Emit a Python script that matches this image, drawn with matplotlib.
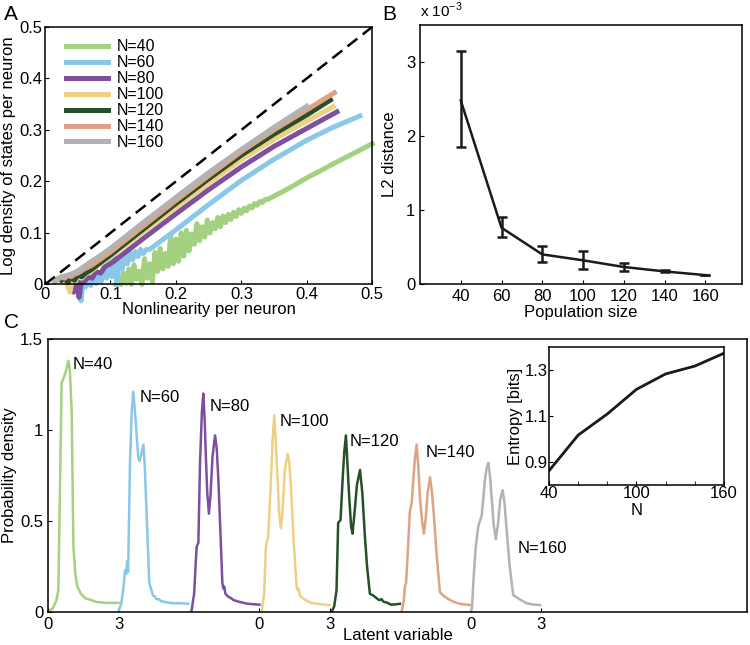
import matplotlib
matplotlib.use('Agg')
import matplotlib.pyplot as plt

plt.rcParams['font.family'] = ['Liberation Sans', 'DejaVu Sans']
plt.rcParams['mathtext.fontset'] = 'custom'
plt.rcParams['mathtext.rm'] = 'Liberation Sans'
plt.rcParams['font.size'] = 12
plt.rcParams['xtick.direction'] = 'in'
plt.rcParams['ytick.direction'] = 'in'
plt.rcParams['xtick.major.size'] = 3
plt.rcParams['ytick.major.size'] = 3
plt.rcParams['axes.linewidth'] = 1.1

sizes = [40, 60, 80, 100, 120, 140, 160]
labels = ['N=40', 'N=60', 'N=80', 'N=100', 'N=120', 'N=140', 'N=160']
colors = ['#a3d17f', '#8ac8e8', '#7d4f9e', '#efd083', '#26502a', '#e0a285', '#b3b3b3']

# panel A: log density of states vs nonlinearity
a_x40 = [0.108, 0.112, 0.116, 0.120, 0.124, 0.128, 0.132, 0.136, 0.140, 0.144, 0.148, 0.152,
         0.156, 0.160, 0.164, 0.168, 0.172, 0.176, 0.180, 0.184, 0.188, 0.192, 0.196, 0.200,
         0.204, 0.208, 0.212, 0.216, 0.220, 0.224, 0.228, 0.232, 0.236, 0.240, 0.244, 0.248,
         0.252, 0.256, 0.260, 0.264, 0.268, 0.272, 0.276, 0.280, 0.284, 0.288, 0.292, 0.296,
         0.300, 0.304, 0.308, 0.312, 0.316, 0.320, 0.324, 0.328, 0.332, 0.336, 0.340,
         0.360, 0.380, 0.400, 0.420, 0.440, 0.460, 0.480, 0.500]
a_y40 = [0.000, 0.012, 0.000, 0.022, 0.002, 0.030, 0.000, 0.038, 0.010, 0.026, 0.000, 0.050,
         0.012, 0.040, 0.005, 0.062, 0.025, 0.070, 0.030, 0.060, 0.035, 0.095, 0.040, 0.088,
         0.045, 0.100, 0.055, 0.105, 0.065, 0.098, 0.078, 0.118, 0.085, 0.112, 0.092, 0.125,
         0.100, 0.120, 0.108, 0.130, 0.112, 0.133, 0.120, 0.136, 0.126, 0.140, 0.132, 0.145,
         0.138, 0.148, 0.143, 0.152, 0.148, 0.157, 0.154, 0.161, 0.159, 0.165, 0.165,
         0.178, 0.192, 0.207, 0.220, 0.234, 0.247, 0.260, 0.273]
a_x60 = [0.052, 0.055, 0.058, 0.062, 0.066, 0.070, 0.074, 0.078, 0.082, 0.086, 0.090, 0.094,
         0.098, 0.102, 0.106, 0.110, 0.114, 0.118, 0.122, 0.126, 0.130, 0.134, 0.138, 0.142,
         0.146, 0.150, 0.155, 0.160, 0.180, 0.200, 0.250, 0.300, 0.350, 0.400, 0.440, 0.481]
a_y60 = [0.000, -0.032, 0.004, -0.005, 0.010, -0.002, 0.018, 0.002, 0.022, 0.006, 0.035, 0.012,
         0.048, 0.015, 0.055, 0.000, 0.052, 0.030, 0.058, 0.040, 0.062, 0.048, 0.064, 0.054,
         0.068, 0.060, 0.068, 0.068, 0.087, 0.106, 0.155, 0.202, 0.243, 0.280, 0.305, 0.327]
a_x80 = [0.040, 0.044, 0.048, 0.052, 0.056, 0.060, 0.066, 0.072, 0.078, 0.085, 0.092, 0.100,
         0.150, 0.200, 0.250, 0.300, 0.350, 0.400, 0.446]
a_y80 = [0.000, -0.015, 0.020, -0.025, 0.010, 0.005, 0.015, 0.012, 0.025, 0.022, 0.035, 0.040,
         0.089, 0.137, 0.184, 0.228, 0.268, 0.303, 0.335]
a_x100 = [0.030, 0.034, 0.038, 0.042, 0.046, 0.050, 0.056, 0.062, 0.070, 0.080, 0.100, 0.150,
          0.200, 0.250, 0.300, 0.350, 0.400, 0.440]
a_y100 = [0.005, 0.000, -0.015, 0.010, 0.005, 0.015, 0.012, 0.020, 0.025, 0.035, 0.054, 0.102,
          0.150, 0.197, 0.242, 0.282, 0.317, 0.345]
a_x120 = [0.025, 0.030, 0.035, 0.040, 0.045, 0.050, 0.056, 0.062, 0.070, 0.080, 0.100, 0.150,
          0.200, 0.250, 0.300, 0.350, 0.400, 0.436]
a_y120 = [0.008, 0.012, 0.004, 0.015, 0.008, 0.018, 0.015, 0.022, 0.028, 0.038, 0.057, 0.107,
          0.157, 0.205, 0.251, 0.292, 0.329, 0.358]
a_x140 = [0.020, 0.025, 0.030, 0.035, 0.040, 0.045, 0.050, 0.060, 0.070, 0.080, 0.100, 0.150,
          0.200, 0.250, 0.300, 0.350, 0.400, 0.442]
a_y140 = [0.010, 0.015, 0.012, 0.018, 0.015, 0.020, 0.022, 0.030, 0.036, 0.045, 0.063, 0.113,
          0.163, 0.211, 0.258, 0.300, 0.339, 0.372]
a_x160 = [0.015, 0.020, 0.030, 0.040, 0.050, 0.060, 0.070, 0.080, 0.100, 0.150, 0.200, 0.250,
          0.300, 0.350, 0.400]
a_y160 = [0.005, 0.012, 0.016, 0.020, 0.026, 0.035, 0.044, 0.052, 0.070, 0.120, 0.169, 0.217,
          0.262, 0.305, 0.346]
a_xs = [a_x40, a_x60, a_x80, a_x100, a_x120, a_x140, a_x160]
a_ys = [a_y40, a_y60, a_y80, a_y100, a_y120, a_y140, a_y160]

# panel B: L2 distance (x 1e-3)
b_mean = [2.48, 0.76, 0.40, 0.32, 0.23, 0.17, 0.12]
b_low = [1.85, 0.63, 0.30, 0.20, 0.18, 0.16, 0.12]
b_high = [3.15, 0.90, 0.52, 0.45, 0.29, 0.19, 0.12]

# panel C: latent variable densities (local x in [0, 3], shifted by 3 per curve)
c_x40 = [0.0, 0.2, 0.35, 0.44, 0.5, 0.58, 0.68, 0.78, 0.87, 0.93, 1.01, 1.08, 1.17, 1.25,
         1.4, 1.6, 2.07, 2.5, 3.0]
c_y40 = [0.0, 0.02, 0.06, 0.12, 0.6, 1.26, 1.29, 1.33, 1.38, 1.33, 1.09, 0.36, 0.2, 0.14,
         0.1, 0.075, 0.055, 0.05, 0.05]
c_x60 = [0.0, 0.12, 0.22, 0.28, 0.33, 0.37, 0.41, 0.49, 0.56, 0.63, 0.7, 0.77, 0.84, 0.89,
         0.96, 1.06, 1.12, 1.17, 1.31, 1.4, 1.47, 1.55, 1.62, 1.74, 1.8, 1.98, 2.2, 2.33, 2.6, 2.97]
c_y60 = [0.0, 0.05, 0.14, 0.23, 0.21, 0.28, 0.22, 0.82, 1.1, 1.21, 1.1, 0.98, 0.85, 0.83,
         0.86, 0.92, 0.8, 0.63, 0.16, 0.12, 0.09, 0.085, 0.07, 0.07, 0.06, 0.055, 0.05, 0.048,
         0.048, 0.045]
c_x80 = [0.1, 0.22, 0.3, 0.33, 0.4, 0.47, 0.55, 0.61, 0.67, 0.72, 0.78, 0.85, 0.92, 1.0,
         1.11, 1.18, 1.25, 1.35, 1.42, 1.46, 1.5, 1.55, 1.67, 1.8, 1.9, 2.1, 2.5, 3.0]
c_y80 = [0.0, 0.1, 0.3, 0.36, 0.38, 0.82, 1.1, 1.2, 1.05, 0.85, 0.65, 0.54, 0.65, 0.85,
         0.97, 0.9, 0.73, 0.4, 0.16, 0.13, 0.14, 0.1, 0.084, 0.075, 0.065, 0.057, 0.045, 0.04]
c_x100 = [0.09, 0.2, 0.27, 0.3, 0.37, 0.49, 0.56, 0.63, 0.7, 0.77, 0.85, 0.91, 0.98, 1.08,
          1.2, 1.27, 1.34, 1.45, 1.58, 1.62, 1.66, 1.72, 1.94, 2.2, 2.51, 3.0]
c_y100 = [0.0, 0.1, 0.35, 0.38, 0.41, 0.73, 0.95, 1.08, 0.92, 0.73, 0.52, 0.46, 0.55, 0.78,
          0.87, 0.82, 0.69, 0.4, 0.14, 0.12, 0.13, 0.09, 0.066, 0.05, 0.044, 0.038]
c_x120 = [0.07, 0.18, 0.28, 0.35, 0.45, 0.54, 0.61, 0.68, 0.75, 0.82, 0.9, 0.96, 1.05, 1.15,
          1.28, 1.38, 1.49, 1.58, 1.7, 1.85, 1.99, 2.1, 2.2, 2.27, 2.45, 2.6, 2.8, 2.98]
c_y120 = [0.0, 0.03, 0.12, 0.49, 0.505, 0.73, 0.88, 0.97, 0.8, 0.63, 0.47, 0.43, 0.55, 0.7,
          0.78, 0.65, 0.41, 0.25, 0.1, 0.09, 0.075, 0.065, 0.07, 0.057, 0.05, 0.04, 0.042, 0.045]
c_x140 = [0.05, 0.14, 0.19, 0.24, 0.3, 0.4, 0.48, 0.55, 0.62, 0.69, 0.76, 0.83, 0.92, 1.0,
          1.08, 1.16, 1.26, 1.34, 1.43, 1.55, 1.68, 1.78, 1.89, 2.05, 2.25, 2.5, 2.96]
c_y140 = [0.0, 0.06, 0.14, 0.16, 0.3, 0.55, 0.6, 0.73, 0.85, 0.92, 0.8, 0.63, 0.5, 0.43,
          0.52, 0.66, 0.74, 0.66, 0.52, 0.3, 0.11, 0.095, 0.084, 0.07, 0.057, 0.045, 0.038]
c_x160 = [0.0, 0.05, 0.1, 0.2, 0.31, 0.46, 0.6, 0.67, 0.74, 0.81, 0.88, 0.97, 1.06, 1.15,
          1.25, 1.35, 1.43, 1.52, 1.65, 1.8, 2.01, 2.2, 2.37, 2.6, 2.94]
c_y160 = [0.0, 0.03, 0.16, 0.35, 0.47, 0.53, 0.73, 0.79, 0.82, 0.75, 0.63, 0.48, 0.4, 0.48,
          0.62, 0.67, 0.6, 0.45, 0.25, 0.093, 0.075, 0.06, 0.048, 0.042, 0.038]
c_xs = [c_x40, c_x60, c_x80, c_x100, c_x120, c_x140, c_x160]
c_ys = [c_y40, c_y60, c_y80, c_y100, c_y120, c_y140, c_y160]
c_label_pos = [(1.06, 1.36), (3.91, 1.18), (6.89, 1.13), (9.87, 1.046),
               (12.85, 0.936), (16.07, 0.877), (20.0, 0.346)]

# inset: entropy
entropy = [0.862, 1.017, 1.109, 1.216, 1.283, 1.317, 1.373]

fig = plt.figure(figsize=(7.5, 6.45), dpi=100)

# ---- A
ax_a = fig.add_axes([0.060, 0.559, 0.4364, 0.3994])
for xs, ys, col, lab in zip(a_xs, a_ys, colors, labels):
    ax_a.plot(xs, ys, color=col, lw=3.6, label=lab, clip_on=False)
ax_a.plot([0, 0.5], [0, 0.5], color='black', lw=1.8, dashes=(5, 2.7))
ax_a.set_xlim(0, 0.5)
ax_a.set_ylim(0, 0.5)
ax_a.set_xticks([0, 0.1, 0.2, 0.3, 0.4, 0.5])
ax_a.set_xticklabels(['0', '0.1', '0.2', '0.3', '0.4', '0.5'])
ax_a.set_yticks([0, 0.1, 0.2, 0.3, 0.4, 0.5])
ax_a.set_yticklabels(['0', '0.1', '0.2', '0.3', '0.4', '0.5'])
ax_a.tick_params(pad=2)
ax_a.set_xlabel('Nonlinearity per neuron', labelpad=0)
ax_a.set_ylabel('Log density of states per neuron', labelpad=2)
ax_a.legend(loc='upper left', bbox_to_anchor=(0.03, 0.995), frameon=False, fontsize=11.5,
            handlelength=2.6, handletextpad=0.6, labelspacing=0.06, borderpad=0.2)

# ---- B
ax_b = fig.add_axes([0.560, 0.5597, 0.4293, 0.4016])
err_lo = [m - l for m, l in zip(b_mean, b_low)]
err_hi = [h - m for m, h in zip(b_mean, b_high)]
ax_b.errorbar(sizes, b_mean, yerr=[err_lo, err_hi], color='#1a1a1a', lw=1.8,
              elinewidth=1.8, capsize=3.5, capthick=1.8)
ax_b.set_xlim(20, 178)
ax_b.set_ylim(0, 3.5)
ax_b.set_xticks(sizes)
ax_b.set_yticks([0, 1, 2, 3])
ax_b.set_xlabel('Population size', labelpad=1)
ax_b.set_ylabel('L2 distance', labelpad=6)
ax_b.text(0.0, 1.02, r'x 10$^{-3}$', transform=ax_b.transAxes, fontsize=11,
          ha='left', va='bottom')

# ---- C
ax_c = fig.add_axes([0.064, 0.0512, 0.932, 0.4233])
for i, (xs, ys, col) in enumerate(zip(c_xs, c_ys, colors)):
    ax_c.plot([x + 3 * i for x in xs], ys, color=col, lw=1.8)
for (tx, ty), lab in zip(c_label_pos, labels):
    ax_c.text(tx, ty, lab, fontsize=12, ha='left', va='center')
ax_c.set_xlim(0, 29.75)
ax_c.set_ylim(0, 1.5)
ax_c.set_xticks([0, 3, 9, 12, 18, 21])
ax_c.set_xticklabels(['0', '3', '0', '3', '0', '3'])
ax_c.set_yticks([0, 0.5, 1, 1.5])
ax_c.set_yticklabels(['0', '0.5', '1', '1.5'])
ax_c.set_xlabel('Latent variable', labelpad=-3)
ax_c.set_ylabel('Probability density', labelpad=2)

# inset
ax_in = fig.add_axes([0.732, 0.248, 0.2333, 0.214])
ax_in.plot(sizes, entropy, color='#1a1a1a', lw=2.0)
ax_in.set_xlim(40, 160)
ax_in.set_ylim(0.8, 1.4)
ax_in.set_xticks([40, 100, 160])
ax_in.set_xticks([60, 80, 120, 140], minor=True)
ax_in.set_yticks([0.9, 1.1, 1.3])
ax_in.set_yticklabels(['0.9', '1.1', '1.3'])
ax_in.tick_params(which='minor', direction='in', length=3)
ax_in.tick_params(pad=1)
ax_in.set_xlabel('N', labelpad=1)
ax_in.set_ylabel('Entropy [bits]', labelpad=1)

fig.text(0.005, 0.977, 'A', fontsize=15, ha='left', va='center')
fig.text(0.509, 0.977, 'B', fontsize=15, ha='left', va='center')
fig.text(0.005, 0.500, 'C', fontsize=15, ha='left', va='center')

fig.savefig('out.png', dpi=100)
